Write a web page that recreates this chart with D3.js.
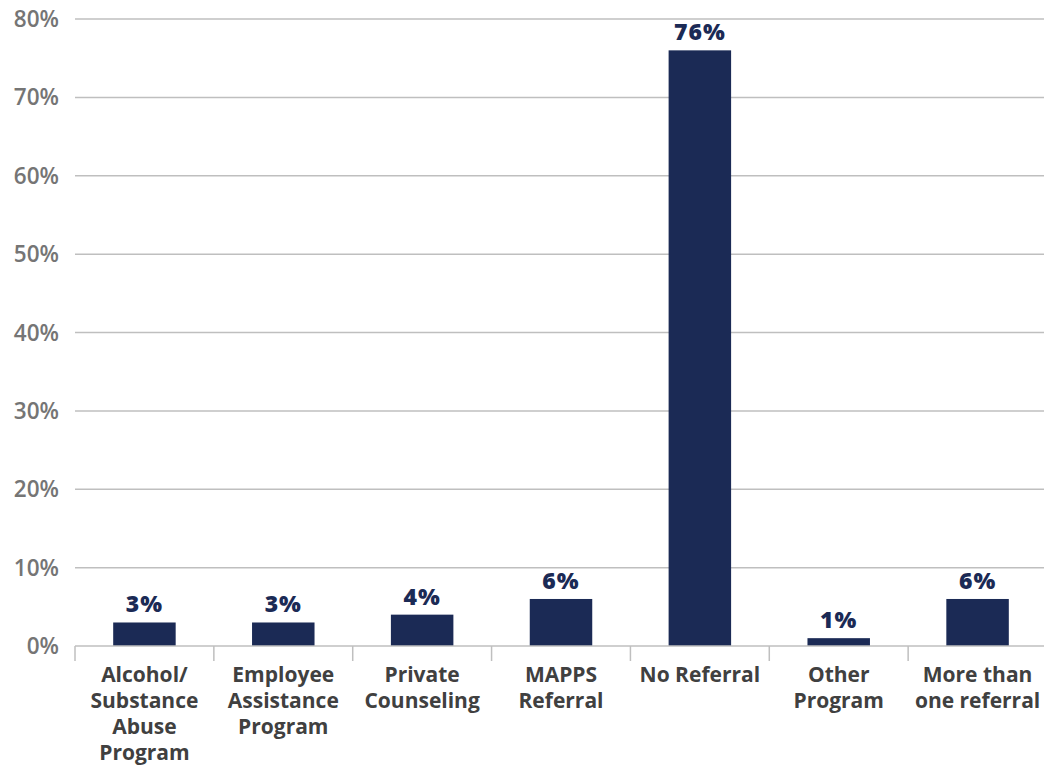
<!DOCTYPE html>
<html>
<head>
<meta charset="utf-8">
<script src="https://cdn.jsdelivr.net/npm/d3@7"></script>
<style>
  html, body { margin: 0; padding: 0; background: #fff; }
  svg { display: block; }
</style>
</head>
<body>
<svg id="chart" width="1044" height="768"></svg>
<script>
// Referral source breakdown
const categories = [
  ["Alcohol/", "Substance", "Abuse", "Program"],
  ["Employee", "Assistance", "Program"],
  ["Private", "Counseling"],
  ["MAPPS", "Referral"],
  ["No Referral"],
  ["Other", "Program"],
  ["More than", "one referral"]
];
const values = [3, 3, 4, 6, 76, 1, 6];
const yTicks = [0, 10, 20, 30, 40, 50, 60, 70, 80];

const svg = d3.select("#chart");
const font = "'Open Sans', 'Noto Sans', sans-serif";

const x = d3.scaleBand()
  .domain(d3.range(categories.length))
  .range([75, 1047])
  .paddingInner(0.55)
  .paddingOuter(0.275);

const y = d3.scaleLinear().domain([0, 80]).range([646, 19]);

// Horizontal gridlines
svg.append("g")
  .selectAll("line")
  .data(yTicks.filter(d => d > 0))
  .join("line")
  .attr("x1", 75).attr("x2", 1044)
  .attr("y1", d => y(d)).attr("y2", d => y(d))
  .attr("stroke", "#bfbfbf").attr("stroke-width", 1.5);

// Y axis labels
svg.append("g")
  .selectAll("text")
  .data(yTicks)
  .join("text")
  .attr("x", 59)
  .attr("y", d => y(d))
  .attr("dy", "0.36em")
  .attr("text-anchor", "end")
  .attr("font-family", font)
  .attr("font-size", 22.5)
  .attr("font-weight", 600)
  .attr("fill", "#757575")
  .text(d => d + "%");

// Bars
svg.append("g")
  .selectAll("rect")
  .data(values)
  .join("rect")
  .attr("x", (d, i) => x(i))
  .attr("width", x.bandwidth())
  .attr("y", d => y(d))
  .attr("height", d => y(0) - y(d))
  .attr("fill", "#1b2a55");

// Value labels
svg.append("g")
  .selectAll("text")
  .data(values)
  .join("text")
  .attr("x", (d, i) => x(i) + x.bandwidth() / 2)
  .attr("y", d => y(d) - 10)
  .attr("text-anchor", "middle")
  .attr("font-family", font)
  .attr("font-size", 23)
  .attr("font-weight", 800)
  .attr("letter-spacing", 1)
  .attr("fill", "#1b2a55")
  .text(d => d + "%");

// Category axis: baseline and tick marks at band edges
const step = x.step();
const x0 = 75;
svg.append("line")
  .attr("x1", 75).attr("x2", 1044)
  .attr("y1", y(0)).attr("y2", y(0))
  .attr("stroke", "#bfbfbf").attr("stroke-width", 1.5);

svg.append("g")
  .selectAll("line")
  .data(d3.range(categories.length))
  .join("line")
  .attr("x1", i => x0 + i * step).attr("x2", i => x0 + i * step)
  .attr("y1", y(0)).attr("y2", y(0) + 15)
  .attr("stroke", "#bfbfbf").attr("stroke-width", 1.5);

// Category labels
const labels = svg.append("g")
  .selectAll("text")
  .data(categories)
  .join("text")
  .attr("text-anchor", "middle")
  .attr("font-family", font)
  .attr("font-size", 21)
  .attr("font-weight", 700)
  .attr("fill", "#404040");

labels.selectAll("tspan")
  .data((d, i) => d.map(line => ({ line, i })))
  .join("tspan")
  .attr("x", d => x(d.i) + x.bandwidth() / 2)
  .attr("y", (d, j) => 682 + j * 26)
  .text(d => d.line);
</script>
</body>
</html>
